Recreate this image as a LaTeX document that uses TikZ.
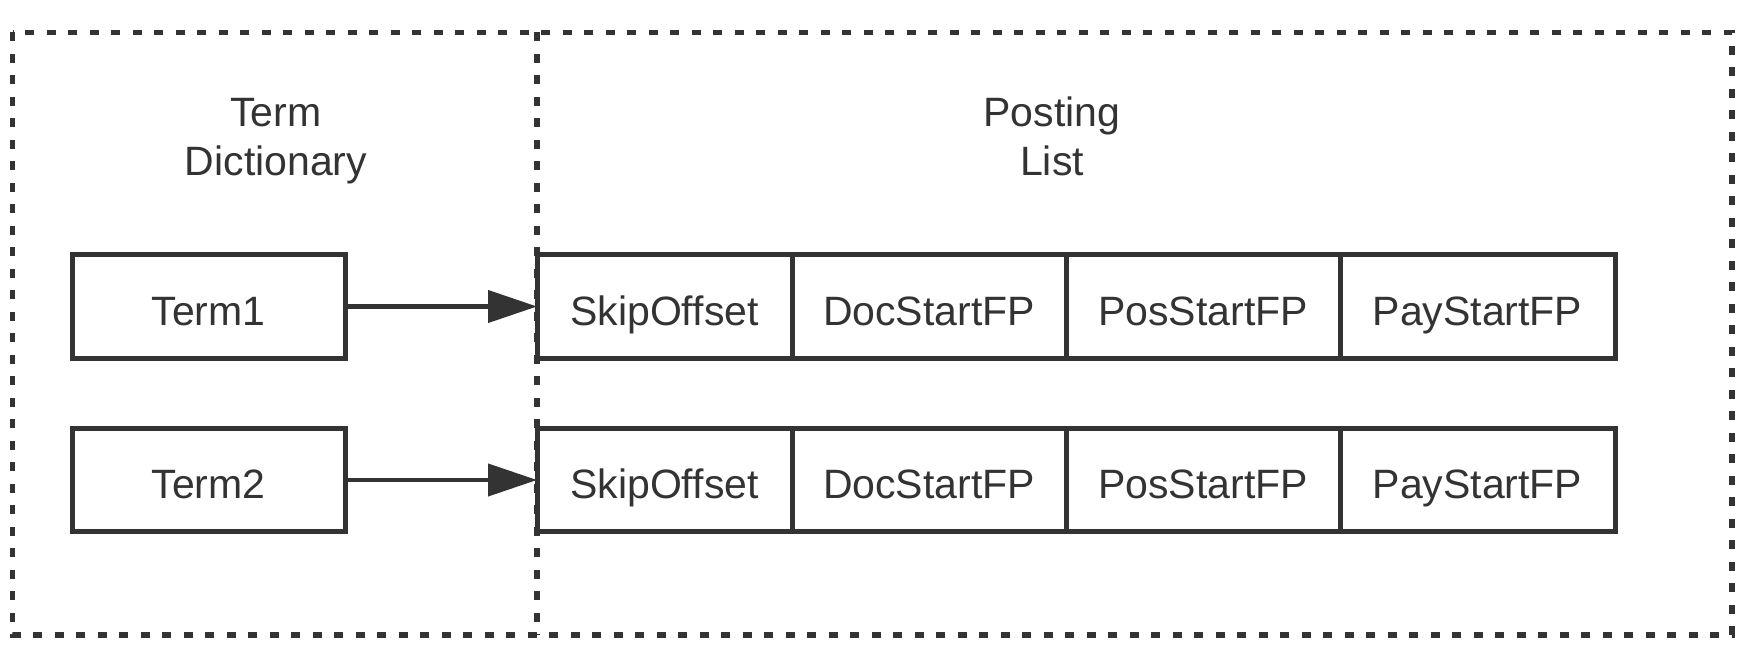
\documentclass[tikz,border=0pt]{standalone}
\usepackage{fontspec}
\setmainfont{Liberation Sans}
\usetikzlibrary{arrows.meta}
\definecolor{ink}{HTML}{333333}
\begin{document}
\begin{tikzpicture}[x=1pt,y=-1pt,
  cell/.style={draw=ink, line width=5pt, rectangle, inner sep=0pt, outer sep=0pt,
    minimum height=103pt, text=ink, font=\fontsize{41}{49}\selectfont,
    text height=37pt, text depth=0pt},
  hdr/.style={text=ink, font=\fontsize{41}{49}\selectfont, inner sep=0pt, anchor=base},
  frame/.style={draw=ink, line width=5.5pt, dash pattern=on 9pt off 12.5pt},
  link/.style={draw=ink, line width=4.2pt, -{Triangle[length=49pt,width=32pt]}}]
\useasboundingbox[fill=white] (0,0) rectangle (1752,652);
% dotted frames
\draw[frame] (12.6,32.3) rectangle (1732,635);
\draw[frame] (537,32.3) -- (537,635);
% headers
\node[hdr] (h1a) at (276,127) {Term};
\node[hdr] (h1b) at (276,176) {Dictionary};
\node[hdr] (h2a) at (1052,127) {Posting};
\node[hdr] (h2b) at (1052,176) {List};
% term boxes
\node[cell, minimum width=273pt] (t1) at (208.5,306.5) {Term1};
\node[cell, minimum width=273pt] (t2) at (208.5,480) {Term2};
% posting rows
\node[cell, minimum width=255pt] (s1) at (664.5,306.5) {SkipOffset};
\node[cell, minimum width=274pt] (d1) at (929,306.5) {DocStartFP};
\node[cell, minimum width=274pt] (p1) at (1203,306.5) {PosStartFP};
\node[cell, minimum width=275pt] (y1) at (1477.5,306.5) {PayStartFP};
\node[cell, minimum width=255pt] (s2) at (664.5,480) {SkipOffset};
\node[cell, minimum width=274pt] (d2) at (929,480) {DocStartFP};
\node[cell, minimum width=274pt] (p2) at (1203,480) {PosStartFP};
\node[cell, minimum width=275pt] (y2) at (1477.5,480) {PayStartFP};
% arrows
\draw[link] (t1.east) -- (s1.west);
\draw[link] (t2.east) -- (s2.west);
\end{tikzpicture}
\end{document}
